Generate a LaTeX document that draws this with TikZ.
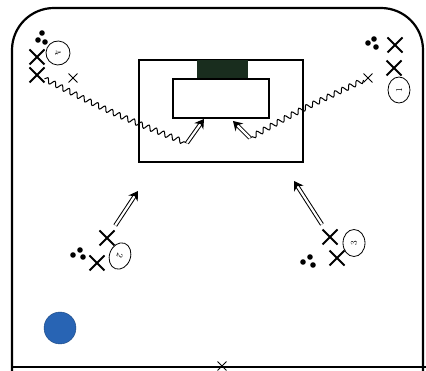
\documentclass[tikz,border=0pt]{standalone}
\usetikzlibrary{shapes.misc,shapes.geometric,decorations.pathmorphing,arrows.meta}

\definecolor{ballblue}{RGB}{40,100,180}
\definecolor{goalgreen}{RGB}{25,45,30}

\tikzset{
  player/.style={shape=cross out,draw,line width=2pt,minimum size=13pt,inner sep=0pt},
  spare/.style={shape=cross out,draw,line width=0.9pt,minimum size=8pt,inner sep=0pt},
  tag/.style={shape=ellipse,draw,line width=0.8pt,inner sep=0.5pt,font=\small},
  dribble/.style={decorate,decoration={snake,segment length=8pt,amplitude=2.6pt},line width=1pt},
  pass/.style={double,double distance=2.2pt,line width=1pt,-{Stealth[length=9pt,width=11pt]}}
}

\begin{document}
\begin{tikzpicture}[x=1pt,y=-1pt]
\useasboundingbox (0,0) rectangle (426,371);

% field lines
\draw[line width=2.2pt,rounded corners=42pt] (12,371) -- (12,8) -- (423,8) -- (423,371);
\draw[line width=1.6pt] (12,367) -- (426,367);
\node(mid) at (222,366)[spare]{};

% goal area
\draw[line width=1.3pt] (139,60) rectangle (303,162);
\fill[goalgreen] (197,60) rectangle (248,79);
\draw[line width=1.3pt,fill=white] (173,79) rectangle (269,118);

% group 4
\foreach \x/\y in {42/33,38/40,45/42} \fill (\x,\y) circle (2.8pt);
\node(x4a) at (37,57)[player]{};
\node(x4b) at (37,75)[player]{};
\node(x4c) at (73,78)[spare]{};
\node(t4) at (58,53)[tag,minimum size=24pt,rotate=-70]{4};

% group 1
\foreach \x/\y in {368/43,374/39,376/47} \fill (\x,\y) circle (2.8pt);
\node(x1a) at (395,45)[player]{};
\node(x1b) at (394,68)[player]{};
\node(x1c) at (368,78)[spare]{};
\node(t1) at (399,90)[tag,minimum width=26pt,minimum height=22pt,rotate=90]{1};

% group 2
\foreach \x/\y in {73/255,80/250,83/257} \fill (\x,\y) circle (2.8pt);
\node(x2a) at (107,238)[player]{};
\node(x2b) at (97,263)[player]{};
\node(t2) at (120,256)[tag,minimum width=27pt,minimum height=21pt,rotate=-110]{2};

% group 3
\foreach \x/\y in {303/262,310/257,313/265} \fill (\x,\y) circle (2.8pt);
\node(x3a) at (330,237)[player]{};
\node(x3b) at (337,258)[player]{};
\node(t3) at (354,243)[tag,minimum width=27pt,minimum height=22pt,rotate=90]{3};

% ball
\node(ball) at (60,328)[shape=circle,fill=ballblue,draw=ballblue!70!black,minimum size=32pt]{};

% runs and shots
\coordinate(d4) at (187,143);
\coordinate(s4) at (204,119);
\coordinate(d1) at (250,138);
\coordinate(s1) at (233,121);
\coordinate(s2) at (138,191);
\coordinate(s3) at (294,181);

\draw[dribble] (x4b) .. controls (110,112) .. (d4);
\draw[dribble] (x1c) .. controls (300,110) .. (d1);
\draw[pass] (d4) -- (s4);
\draw[pass] (d1) -- (s1);
\draw[pass,shorten <=6pt] (x2a) -- (s2);
\draw[pass,shorten <=6pt] (x3a) -- (s3);

\end{tikzpicture}
\end{document}
